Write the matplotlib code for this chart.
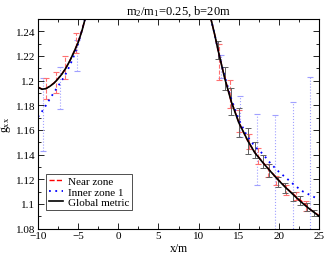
import numpy as np
from matplotlib import pyplot as plt
from matplotlib.ticker import MultipleLocator

plt.rcParams['font.family'] = ['Liberation Serif', 'DejaVu Serif']
plt.rcParams['mathtext.fontset'] = 'custom'
plt.rcParams['mathtext.rm'] = 'Liberation Serif'
plt.rcParams['mathtext.it'] = 'Liberation Serif'

# Global metric curve (two branches)
glob_x_l = [-10.0, -9.5, -9.0, -8.5, -8.0, -7.5, -7.0, -6.5, -6.0, -5.5, -5.0, -4.5, -4.1]
glob_y_l = [1.1945, 1.193, 1.1935, 1.1955, 1.198, 1.2015, 1.2055, 1.2105, 1.2165, 1.2235, 1.231, 1.241, 1.251]
glob_x_r = [11.5, 12.0, 12.42, 13.25, 14.07, 15.0, 16.15, 17.0, 18.0, 18.8, 19.9, 20.8, 21.7, 22.6, 23.5, 24.4, 25.0]
glob_y_r = [1.251, 1.2375, 1.2249, 1.202, 1.183, 1.166, 1.151, 1.1415, 1.1335, 1.1275, 1.1195, 1.1135, 1.108,
            1.1025, 1.0975, 1.093, 1.090]

# Near zone curve
near_x_l = [-10.0, -9.5, -9.0, -8.5, -8.0, -7.5, -7.0, -6.5, -6.0, -5.5, -5.0, -4.5, -4.1]
near_y_l = [1.1948, 1.1932, 1.1936, 1.1956, 1.1982, 1.2017, 1.2057, 1.2107, 1.2167, 1.2237, 1.2312, 1.2412, 1.2512]
near_x_r = [11.5, 12.0, 12.5, 13.0, 14.0, 15.0, 16.0, 17.0, 18.0, 19.0, 20.0, 21.0, 22.0, 23.0, 24.0, 25.0]
near_y_r = [1.251, 1.2375, 1.2225, 1.209, 1.1845, 1.1665, 1.1525, 1.1418, 1.1338, 1.1262, 1.1192, 1.1125, 1.1068,
            1.1012, 1.095, 1.0905]

# Inner zone 1 curve
inner_x_l = [-10.0, -9.5, -9.0, -8.5, -8.0, -7.5, -7.0, -6.5, -6.0, -5.5, -5.0, -4.5, -4.1]
inner_y_l = [1.1705, 1.175, 1.180, 1.1855, 1.1905, 1.1955, 1.2005, 1.206, 1.2127, 1.2205, 1.230, 1.2415, 1.251]
inner_x_r = [11.5, 12.0, 12.5, 13.0, 14.0, 15.0, 16.0, 17.0, 18.0, 19.0, 20.0, 21.0, 22.0, 23.0, 24.0, 25.0]
inner_y_r = [1.251, 1.2375, 1.2225, 1.2095, 1.1865, 1.1685, 1.1555, 1.1465, 1.1405, 1.1325, 1.126, 1.1205,
             1.1148, 1.110, 1.1068, 1.1035]

# Error bars
glob_ex = [12.42, 13.25, 14.07, 15.0, 16.15, 17.0, 18.0, 18.8, 19.9, 20.8, 21.7, 22.6, 23.5, 24.4]
glob_ey = [1.2249, 1.202, 1.183, 1.166, 1.151, 1.1436, 1.134, 1.1273, 1.118, 1.1127, 1.106, 1.1027, 1.0973, 1.0927]
glob_err = [0.007, 0.0093, 0.0107, 0.012, 0.0107, 0.0064, 0.0053, 0.0053, 0.004, 0.004, 0.004, 0.0034, 0.0034,
            0.0027]

near_ex = [-9.0, -7.7, -6.7, -5.3, 12.6, 13.87, 15.0, 16.27, 17.4, 18.64, 19.68, 20.93, 22.17, 23.4]
near_ey = [1.1935, 1.1985, 1.2105, 1.2305, 1.2153, 1.1893, 1.167, 1.1507, 1.139, 1.127, 1.119, 1.111, 1.1065, 1.098]
near_err = [0.0085, 0.0085, 0.0095, 0.0085, 0.0147, 0.0113, 0.009, 0.006, 0.0067, 0.0053, 0.004, 0.004, 0.0033, 0.004]

inner_ex = [-9.4, -7.3, -5.2, 12.8, 15.2, 17.3, 19.55, 21.75, 23.85]
inner_ey = [1.1725, 1.194, 1.2203, 1.2113, 1.1707, 1.1443, 1.1245, 1.1125, 1.105]
inner_err = [0.030, 0.0173, 0.0127, 0.0093, 0.0167, 0.029, 0.0475, 0.070, 0.098]

fig = plt.figure(figsize=(3.26, 2.55), dpi=100)
ax = fig.add_axes([0.1166, 0.1, 0.862, 0.8216])

eb = ax.errorbar(inner_ex, inner_ey, yerr=inner_err, fmt='none', ecolor='#a0a0ff', elinewidth=0.8, capsize=2,
                 capthick=0.8)
eb[2][0].set_linestyle(':')
eb = ax.errorbar(near_ex, near_ey, yerr=near_err, fmt='none', ecolor='#ff7070', elinewidth=0.8, capsize=2,
                 capthick=0.8)
eb[2][0].set_linestyle('--')
ax.errorbar(glob_ex, glob_ey, yerr=glob_err, fmt='none', ecolor='#606060', elinewidth=0.7, capsize=2.5,
            capthick=0.7)

ax.plot(inner_x_l, inner_y_l, color='#0000ff', ls=(0, (1, 2.5)), lw=1.3, label='Inner zone 1')
ax.plot(inner_x_r, inner_y_r, color='#0000ff', ls=(0, (1, 2.5)), lw=1.3)
ax.plot(near_x_l, near_y_l, color='#ff0000', ls='--', lw=1.0, label='Near zone')
ax.plot(near_x_r, near_y_r, color='#ff0000', ls='--', lw=1.0)
ax.plot(glob_x_l, glob_y_l, color='black', lw=1.2, label='Global metric')
ax.plot(glob_x_r, glob_y_r, color='black', lw=1.2)

ax.set_xlim(-10, 25)
ax.set_ylim(1.08, 1.25)
ax.xaxis.set_major_locator(MultipleLocator(5))
ax.xaxis.set_minor_locator(MultipleLocator(2.5))
ax.yaxis.set_major_locator(MultipleLocator(0.02))
ax.yaxis.set_minor_locator(MultipleLocator(0.01))
ax.set_yticks([1.08, 1.1, 1.12, 1.14, 1.16, 1.18, 1.2, 1.22, 1.24])
ax.set_yticklabels(['1.08', '1.1', '1.12', '1.14', '1.16', '1.18', '1.2', '1.22', '1.24'])
ax.tick_params(which='both', direction='in', top=True, right=True, labelsize=8, pad=2)
ax.tick_params(which='major', length=4, width=0.6)
ax.tick_params(which='minor', length=2, width=0.6)
for s in ax.spines.values():
    s.set_linewidth(0.8)

ax.set_title('m$_2$/m$_1$=0.25, b=20m', fontsize=9, pad=4)
ax.set_xlabel('x/m', fontsize=8.5, labelpad=1)
ax.set_ylabel('g$_{xx}$', fontsize=8.5, labelpad=2)

h, l = ax.get_legend_handles_labels()
order = [1, 0, 2]
leg = ax.legend([h[i] for i in order], [l[i] for i in order], loc='lower left', bbox_to_anchor=(0.03, 0.09),
                fontsize=8, handlelength=1.2, handletextpad=0.5, borderpad=0.25, labelspacing=0.05,
                fancybox=False, framealpha=1, edgecolor='#333333', borderaxespad=0)
leg.get_frame().set_linewidth(0.6)

fig.savefig('out.png', dpi=100)
